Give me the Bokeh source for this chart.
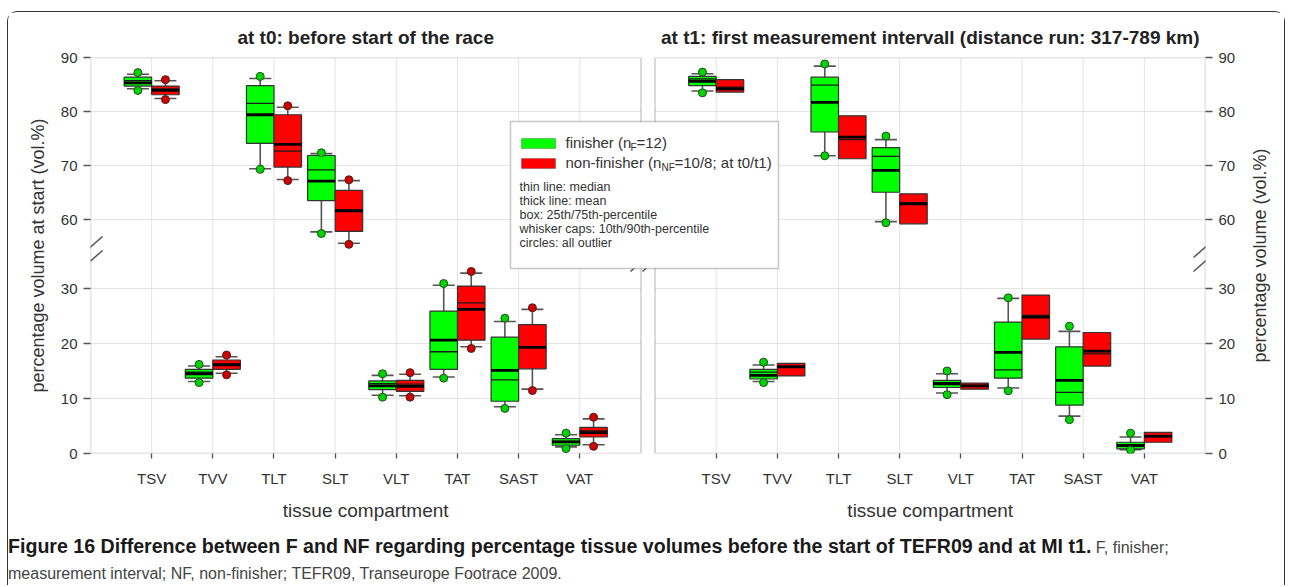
import math
import numpy as np
from bokeh.plotting import figure
from bokeh.layouts import column, row
from bokeh.models import (Range1d, LinearAxis, FixedTicker, CustomJSTickFormatter,
                          Label, BoxAnnotation, Arrow, ColumnDataSource, Div)
from bokeh.embed import file_html
from bokeh.resources import INLINE

NAN = float("nan")

# ---------------- data ----------------
categories = ["TSV", "TVV", "TLT", "SLT", "VLT", "TAT", "SAST", "VAT"]
upper_cats = ["TSV", "TLT", "SLT"]          # drawn on the upper (broken) axis segment
panel_titles = ["at t0: before start of the race",
                "at t1: first measurement intervall (distance run: 317-789 km)"]

# t0, finisher (green)
t0_f_p10  = [84.2, 13.1, 69.4, 57.7, 10.6, 13.9, 8.5, 1.2]
t0_f_q1   = [84.7, 13.7, 74.1, 63.5, 11.6, 15.3, 9.5, 1.5]
t0_f_med  = [85.7, 14.8, 81.5, 69.2, 12.7, 18.5, 13.4, 2.2]
t0_f_mean = [85.3, 14.5, 79.4, 67.1, 12.3, 20.6, 15.1, 2.1]
t0_f_q3   = [86.35, 15.3, 84.8, 71.85, 13.2, 25.9, 21.15, 2.7]
t0_f_p90  = [86.9, 15.9, 86.1, 72.2, 14.2, 30.6, 24.0, 3.4]
t0_f_olo  = [83.9, 12.9, 69.3, 57.4, 10.25, 13.7, 8.2, 0.9]
t0_f_ohi  = [87.2, 16.2, 86.5, 72.35, 14.5, 30.9, 24.6, 3.7]

# t0, non-finisher (red)
t0_nf_p10  = [82.4, 14.6, 67.4, 55.6, 10.5, 19.4, 11.7, 1.6]
t0_nf_q1   = [83.1, 15.3, 69.7, 57.8, 11.3, 20.6, 15.4, 3.0]
t0_nf_med  = [84.2, 16.3, 72.65, 61.8, 12.6, 27.4, 19.3, 4.1]
t0_nf_mean = [83.9, 16.1, 73.9, 61.6, 12.2, 26.2, 19.3, 3.8]
t0_nf_q3   = [84.7, 17.0, 79.4, 65.4, 13.3, 30.45, 23.45, 4.75]
t0_nf_p90  = [85.7, 17.6, 80.8, 67.2, 14.4, 32.8, 26.2, 6.3]
t0_nf_olo  = [82.2, 14.3, 67.2, 55.4, 10.25, 19.1, 11.45, 1.3]
t0_nf_ohi  = [85.9, 17.9, 81.05, 67.35, 14.7, 33.1, 26.5, 6.6]

# t1, finisher (green)
t1_f_p10  = [83.8, 13.1, 71.8, 59.6, 11.0, 11.9, 6.8, 0.7]
t1_f_q1   = [84.8, 13.55, 76.2, 65.05, 12.0, 13.7, 8.8, 0.85]
t1_f_med  = [86.05, 14.8, 84.9, 71.7, 12.9, 15.2, 11.1, 1.6]
t1_f_mean = [85.6, 14.2, 81.7, 69.1, 12.65, 18.4, 13.3, 1.45]
t1_f_q3   = [86.5, 15.3, 86.35, 73.3, 13.3, 23.9, 19.4, 2.05]
t1_f_p90  = [87.0, 16.1, 88.4, 74.8, 14.5, 28.2, 22.2, 3.0]
t1_f_olo  = [83.45, 12.9, 71.8, 59.4, 10.7, 11.4, 6.15, 0.6]
t1_f_ohi  = [87.3, 16.6, 88.8, 75.45, 15.0, 28.3, 23.15, 3.7]

# t1, non-finisher (red) - no whiskers / outliers shown
t1_nf_p10  = [NAN] * 8
t1_nf_q1   = [83.6, 14.1, 71.25, 59.2, 11.7, 20.8, 15.9, 2.05]
t1_nf_med  = [84.5, 15.6, 74.8, 63.1, 12.4, 25.1, 18.1, 3.3]
t1_nf_mean = [84.2, 15.8, 75.25, 62.9, 12.3, 24.8, 18.6, 3.1]
t1_nf_q3   = [85.9, 16.4, 79.2, 64.75, 12.8, 28.8, 22.0, 3.85]
t1_nf_p90  = [NAN] * 8
t1_nf_olo  = [NAN] * 8
t1_nf_ohi  = [NAN] * 8

upper_ticks = [60, 70, 80, 90]
lower_ticks = [0, 10, 20, 30]

# ---------------- layout (page pixels) ----------------
OX, OY = 8, 12                 # page position of the main canvas
WB, HB = 1236, 514             # main canvas
WS = 40                        # side canvas (right axis title)
HC = 59                        # caption block
FL, FT, FW, FH = 90, 57, 1115, 396   # frame in page px
PANEL = 9.0
GAP = 0.23
XSPAN = 2 * PANEL + GAP
ROFF = PANEL + GAP
PXU = FW / XSPAN
PX_LOW, PX_UP = 5.5, 5.4
LOW_END = FH / PX_LOW
UP_START = 90 - FH / PX_UP
BT, BB = FT - OY, HB - (FT - OY) - FH

FONT = "Liberation Sans"
DARK = "#222222"
TXT = "#333333"
AXC = "#555555"


def xd(px):
    return (px - FL) / PXU


def yd(py):
    return (FT + FH - py) / PX_LOW


p = figure(width=WB, height=HB, output_backend="svg", toolbar_location=None,
           x_range=Range1d(0, XSPAN), y_range=Range1d(0, LOW_END),
           min_border_left=FL - OX, min_border_top=BT,
           min_border_right=WB - (FL - OX) - FW, min_border_bottom=BB)
p.extra_y_ranges = {"upper": Range1d(UP_START, 90)}
p.outline_line_color = None
p.xgrid.visible = False
p.ygrid.visible = False
p.background_fill_color = "white"
p.border_fill_color = "white"

bx = p.below[0]
ly = p.left[0]

# y ticks: lower ticks directly, upper ticks converted into lower coordinates
ytick_pos = lower_ticks + [(v - UP_START) * PX_UP / PX_LOW for v in upper_ticks]
yfmt = CustomJSTickFormatter(args=dict(u0=UP_START, ku=PX_UP, kl=PX_LOW), code="""
    if (tick < 36) { return tick.toFixed(0); }
    return Math.round(u0 + tick * kl / ku).toFixed(0);
""")
xtick_pos = [i + 1 for i in range(len(categories))] + [ROFF + i + 1 for i in range(len(categories))]
xfmt = CustomJSTickFormatter(args=dict(cats=categories, roff=ROFF), code="""
    let i = tick > 9.1 ? tick - roff : tick;
    return cats[Math.round(i) - 1];
""")
centers = [PANEL / 2, ROFF + PANEL / 2]
tfmt = CustomJSTickFormatter(args=dict(t=panel_titles), code="return tick < 9 ? t[0] : t[1];")
cfmt = CustomJSTickFormatter(code="return 'tissue compartment';")

ly.ticker = FixedTicker(ticks=ytick_pos)
ly.formatter = yfmt
ly.axis_label = "percentage volume at start (vol.%)"
bx.ticker = FixedTicker(ticks=xtick_pos)
bx.formatter = xfmt
ry = LinearAxis(ticker=FixedTicker(ticks=ytick_pos), formatter=yfmt)
p.add_layout(ry, "right")
top_ax = LinearAxis(ticker=FixedTicker(ticks=centers), formatter=tfmt)
p.add_layout(top_ax, "above")
bot2 = LinearAxis(ticker=FixedTicker(ticks=centers), formatter=cfmt)
p.add_layout(bot2, "below")

for ax in [bx, ly, ry, top_ax, bot2]:
    ax.axis_line_color = None
    ax.major_tick_line_color = AXC
    ax.major_tick_line_width = 1.3
    ax.minor_tick_line_color = None
    ax.major_tick_in = 0
    ax.major_label_text_font = FONT
    ax.major_label_text_font_size = "15px"
    ax.major_label_text_color = TXT
    ax.axis_label_text_font = FONT
    ax.axis_label_text_font_size = "18px"
    ax.axis_label_text_font_style = "normal"
    ax.axis_label_text_color = TXT
bx.major_tick_out = 5
bx.major_label_standoff = 11
for ax in [ly, ry]:
    ax.major_tick_out = 7
    ax.major_label_standoff = 6
ly.axis_label_standoff = 10

top_ax.major_tick_line_color = None
top_ax.major_tick_out = 0
top_ax.major_label_standoff = 10
top_ax.major_label_text_font_size = "19px"
top_ax.major_label_text_font_style = "bold"
top_ax.major_label_text_color = DARK

bot2.major_tick_line_color = None
bot2.major_tick_out = 0
bot2.major_label_standoff = 10
bot2.major_label_text_font_size = "19px"

# ---------------- gridlines per panel ----------------
for off in (0.0, ROFF):
    gx = [off + i + 1 for i in range(len(categories))]
    p.segment(x0=gx, y0=[0] * len(gx), x1=gx, y1=[LOW_END] * len(gx),
              line_color="#e4e4e4", line_width=1)
    p.segment(x0=[off] * 3, y0=lower_ticks[1:], x1=[off + PANEL] * 3, y1=lower_ticks[1:],
              line_color="#e4e4e4", line_width=1)
    p.segment(x0=[off] * 3, y0=upper_ticks[:3], x1=[off + PANEL] * 3, y1=upper_ticks[:3],
              line_color="#e4e4e4", line_width=1, y_range_name="upper")

# ---------------- boxes ----------------
BOXW = 0.45
CAPW = 0.36


def draw_group(xoff, side, p10, q1, med, mean, q3, p90, olo, ohi, fill, cfill, cline):
    for upper in (True, False):
        idx = [i for i, c in enumerate(categories) if (c in upper_cats) == upper]
        xc = np.array([xoff + i + 1 + side * BOXW / 2 for i in idx])
        sel = lambda a: np.array([a[i] for i in idx], dtype=float)
        src = ColumnDataSource(dict(
            x=xc, l=xc - BOXW / 2, r=xc + BOXW / 2, cl=xc - CAPW / 2, cr=xc + CAPW / 2,
            p10=sel(p10), q1=sel(q1), med=sel(med), mean=sel(mean), q3=sel(q3),
            p90=sel(p90), olo=sel(olo), ohi=sel(ohi)))
        rn = "upper" if upper else "default"
        p.segment(x0="x", y0="p10", x1="x", y1="p90", source=src, y_range_name=rn,
                  line_color="#555555", line_width=1.6)
        p.segment(x0="cl", y0="p10", x1="cr", y1="p10", source=src, y_range_name=rn,
                  line_color="#555555", line_width=1.6)
        p.segment(x0="cl", y0="p90", x1="cr", y1="p90", source=src, y_range_name=rn,
                  line_color="#555555", line_width=1.6)
        p.quad(left="l", right="r", bottom="q1", top="q3", source=src, y_range_name=rn,
               fill_color=fill, line_color="#333333", line_width=1.2)
        p.segment(x0="l", y0="med", x1="r", y1="med", source=src, y_range_name=rn,
                  line_color="#1a1a1a", line_width=1.3)
        p.segment(x0="l", y0="mean", x1="r", y1="mean", source=src, y_range_name=rn,
                  line_color="#000000", line_width=2.8)
        p.scatter(x="x", y="olo", source=src, y_range_name=rn, size=8,
                  fill_color=cfill, line_color=cline, line_width=1)
        p.scatter(x="x", y="ohi", source=src, y_range_name=rn, size=8,
                  fill_color=cfill, line_color=cline, line_width=1)


GREEN, RED = "#00ff00", "#ff0000"
draw_group(0.0, -1, t0_f_p10, t0_f_q1, t0_f_med, t0_f_mean, t0_f_q3, t0_f_p90, t0_f_olo, t0_f_ohi,
           GREEN, "#00d400", "#1f4d1f")
draw_group(0.0, +1, t0_nf_p10, t0_nf_q1, t0_nf_med, t0_nf_mean, t0_nf_q3, t0_nf_p90, t0_nf_olo, t0_nf_ohi,
           RED, "#d00000", "#4d1f1f")
draw_group(ROFF, -1, t1_f_p10, t1_f_q1, t1_f_med, t1_f_mean, t1_f_q3, t1_f_p90, t1_f_olo, t1_f_ohi,
           GREEN, "#00d400", "#1f4d1f")
draw_group(ROFF, +1, t1_nf_p10, t1_nf_q1, t1_nf_med, t1_nf_mean, t1_nf_q3, t1_nf_p90, t1_nf_olo, t1_nf_ohi,
           RED, "#d00000", "#4d1f1f")

# ---------------- panel frames ----------------
for off in (0.0, ROFF):
    p.add_layout(BoxAnnotation(left=off, right=off + PANEL, bottom=0, top=LOW_END,
                               fill_alpha=0, line_color=AXC, line_width=1.5))

# axis break marks (page px)
for cx in (90, 642, 654, 1205):
    for dyy in (0, 14):
        p.add_layout(Arrow(end=None, x_start=xd(cx - 12), y_start=yd(257 + dyy),
                           x_end=xd(cx + 12), y_end=yd(236 + dyy),
                           line_color=AXC, line_width=1.5))

# ---------------- legend ----------------
p.add_layout(BoxAnnotation(left=xd(510), right=xd(778), top=yd(121), bottom=yd(268),
                           fill_color="white", fill_alpha=1, line_color="#444444", line_width=1.5))
p.add_layout(BoxAnnotation(left=xd(521), right=xd(555), top=yd(138), bottom=yd(148),
                           fill_color=GREEN, fill_alpha=1, line_color="#333333", line_width=1))
p.add_layout(BoxAnnotation(left=xd(521), right=xd(555), top=yd(158), bottom=yd(168),
                           fill_color=RED, fill_alpha=1, line_color="#333333", line_width=1))


def lab(px, py, text, size, align="left", bold=False, color=TXT):
    p.add_layout(Label(x=xd(px), y=yd(py), text=text, text_font=FONT,
                       text_font_size=size, text_align=align, text_baseline="middle",
                       text_font_style="bold" if bold else "normal", text_color=color))


lab(565, 142, "finisher (n", "15px")
lab(630, 147, "F", "10px")
lab(636, 142, "=12)", "15px")
lab(565, 162, "non-finisher (n", "15px")
lab(661, 167, "NF", "10px")
lab(674, 162, "=10/8; at t0/t1)", "15px")
for k, t in enumerate(["thin line: median", "thick line: mean", "box: 25th/75th-percentile",
                       "whisker caps: 10th/90th-percentile", "circles: all outlier"]):
    lab(519, 186 + 14 * k, t, "12.5px")

# ---------------- right axis title (own narrow canvas, reads bottom-to-top) ----------------
side = figure(width=WS, height=HB, output_backend="svg", toolbar_location=None,
              x_range=Range1d(0, WS), y_range=Range1d(0, 1),
              x_axis_type=None, y_axis_type=None,
              min_border_left=0, min_border_right=0, min_border_top=BT, min_border_bottom=BB)
side.grid.visible = False
side.outline_line_color = None
side.border_fill_color = "white"
side.add_layout(Label(x=15, y=0.5, text="percentage volume (vol.%)", angle=math.pi / 2,
                      text_font=FONT, text_font_size="18px", text_color=TXT,
                      text_align="center", text_baseline="middle"))

# ---------------- caption ----------------
cap = Div(text=("<b style='font-size:19.6px;color:#1a1a1a'>Figure 16 Difference between F and NF "
                "regarding percentage tissue volumes before the start of TEFR09 and at MI t1.</b>"
                " F, finisher;<br>measurement interval; NF, non-finisher; TEFR09, "
                "Transeurope Footrace 2009."),
          width=WB + WS, height=HC, margin=(0, 0, 0, 0),
          styles={"font-family": FONT, "font-size": "16px", "color": "#444444",
                  "line-height": "26px", "padding-top": "7px", "white-space": "nowrap"})

layout = column(row(p, side), cap, margin=(11, 0, 0, 7),
                styles={"border-top": "1.3px solid #333", "border-left": "1.3px solid #333",
                        "border-right": "1.3px solid #333",
                        "border-top-left-radius": "10px", "border-top-right-radius": "10px"})

open("out.html", "w").write(file_html(layout, INLINE))
